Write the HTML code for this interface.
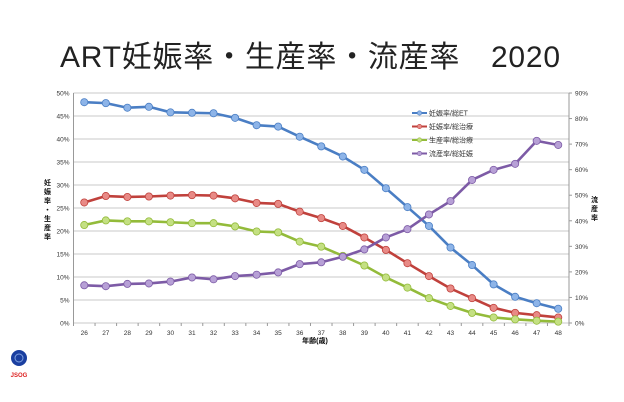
<!DOCTYPE html>
<html><head><meta charset="utf-8"><style>
html,body{margin:0;padding:0;background:#fff;}
svg{display:block;font-family:"Liberation Sans","Noto Sans CJK JP",sans-serif;}
</style></head><body>
<svg id="s" width="624" height="402" xmlns="http://www.w3.org/2000/svg">
<text x="310" y="67" font-size="30" text-anchor="middle" fill="#222" textLength="500" lengthAdjust="spacing" font-family="Liberation Sans,Noto Sans CJK JP,sans-serif">ART妊娠率・生産率・流産率　2020</text>
<g id="grid"></g>
<g id="series"></g>
<text x="315" y="343" font-size="7" font-weight="bold" text-anchor="middle">年齢(歳)</text>
<text font-size="7" font-weight="bold" fill="#111"><tspan x="44" y="185">妊</tspan><tspan x="44" y="194">娠</tspan><tspan x="44" y="203">率</tspan><tspan x="44" y="212">・</tspan><tspan x="44" y="221">生</tspan><tspan x="44" y="230">産</tspan><tspan x="44" y="239">率</tspan></text>
<text font-size="7" font-weight="bold" fill="#111"><tspan x="591" y="202">流</tspan><tspan x="591" y="211">産</tspan><tspan x="591" y="220">率</tspan></text>
<circle cx="19" cy="358" r="8" fill="#1a3fa0"/>
<circle cx="19" cy="358" r="4" fill="none" stroke="#7fa0e0" stroke-width="1"/>
<text x="19" y="377" font-size="6" fill="#d22" font-weight="bold" text-anchor="middle">JSOG</text>
</svg>
<script>
const L=73.5,R=569,T=93,B=323,step=(R-L)/23;
const g=document.getElementById('grid'),s=document.getElementById('series');
let h='';
for(let i=0;i<=10;i++){const y=B-i*(B-T)/10;h+=`<line x1="${L}" x2="${R}" y1="${y}" y2="${y}" stroke="#c8c8c8" stroke-width="1"/>`;
h+=`<text x="${L-4}" y="${y+2.5}" font-size="6.5" text-anchor="end" fill="#333">${i*5}%</text>`;}
for(let i=0;i<=9;i++){const y=B-i*(B-T)/9;h+=`<line x1="${R}" x2="${R+3}" y1="${y}" y2="${y}" stroke="#999"/>`;
h+=`<text x="${R+6}" y="${y+2.5}" font-size="6.5" fill="#333">${i*10}%</text>`;}
h+=`<line x1="${L}" x2="${L}" y1="${T}" y2="${B}" stroke="#999"/><line x1="${R}" x2="${R}" y1="${T}" y2="${B}" stroke="#999"/>`;
for(let i=0;i<23;i++){const x=L+step*(i+0.5);h+=`<text x="${x}" y="${B+12}" font-size="6.5" text-anchor="middle" fill="#333">${26+i}</text>`;}
for(let i=0;i<=23;i++){const x=L+step*i;h+=`<line x1="${x}" x2="${x}" y1="${B}" y2="${B+3}" stroke="#999"/>`;}
g.innerHTML=h;
const data=[
["#4a7ec4","#8db4e8",[48,47.8,46.8,47,45.8,45.7,45.6,44.6,43,42.7,40.5,38.4,36.2,33.3,29.3,25.2,21.1,16.4,12.6,8.4,5.7,4.3,3.1]],
["#c0413c","#e88a86",[26.2,27.6,27.4,27.5,27.7,27.8,27.7,27.1,26.1,25.9,24.2,22.8,21.1,18.6,15.9,13.0,10.2,7.5,5.4,3.3,2.2,1.7,1.2]],
["#93bb3a","#c4e083",[21.3,22.3,22.1,22.1,21.9,21.7,21.7,21.0,19.9,19.7,17.7,16.6,14.6,12.5,9.9,7.7,5.4,3.7,2.2,1.2,0.8,0.5,0.3]],
["#7d5ba6","#b7a0d6",[8.2,8.0,8.5,8.6,9.0,9.9,9.5,10.2,10.5,11.0,12.8,13.2,14.4,16.0,18.6,20.4,23.6,26.5,31.1,33.3,34.6,39.6,38.7]]];
let o='';
for(const [c,f,d] of data){
 const pts=d.map((v,i)=>[L+step*(i+0.5),B-v*4.6]);
 o+=`<polyline points="${pts.map(p=>p.join(',')).join(' ')}" fill="none" stroke="${c}" stroke-width="2.6" stroke-linejoin="round"/>`;
 for(const p of pts)o+=`<circle cx="${p[0]}" cy="${p[1]}" r="3.6" fill="${f}" stroke="${c}" stroke-width="0.8"/>`;
}
const lab=["妊娠率/総ET","妊娠率/総治療","生産率/総治療","流産率/総妊娠"];
lab.forEach((t,i)=>{const y=113+i*13.5;const c=data[i][0],f=data[i][1];
 o+=`<line x1="412" x2="427" y1="${y}" y2="${y}" stroke="${c}" stroke-width="2"/><circle cx="419.5" cy="${y}" r="2.2" fill="${f}" stroke="${c}" stroke-width="0.6"/>`;
 o+=`<text x="429" y="${y+2.5}" font-size="7" fill="#333">${t}</text>`;});
s.innerHTML=o;
</script>
</body></html>
